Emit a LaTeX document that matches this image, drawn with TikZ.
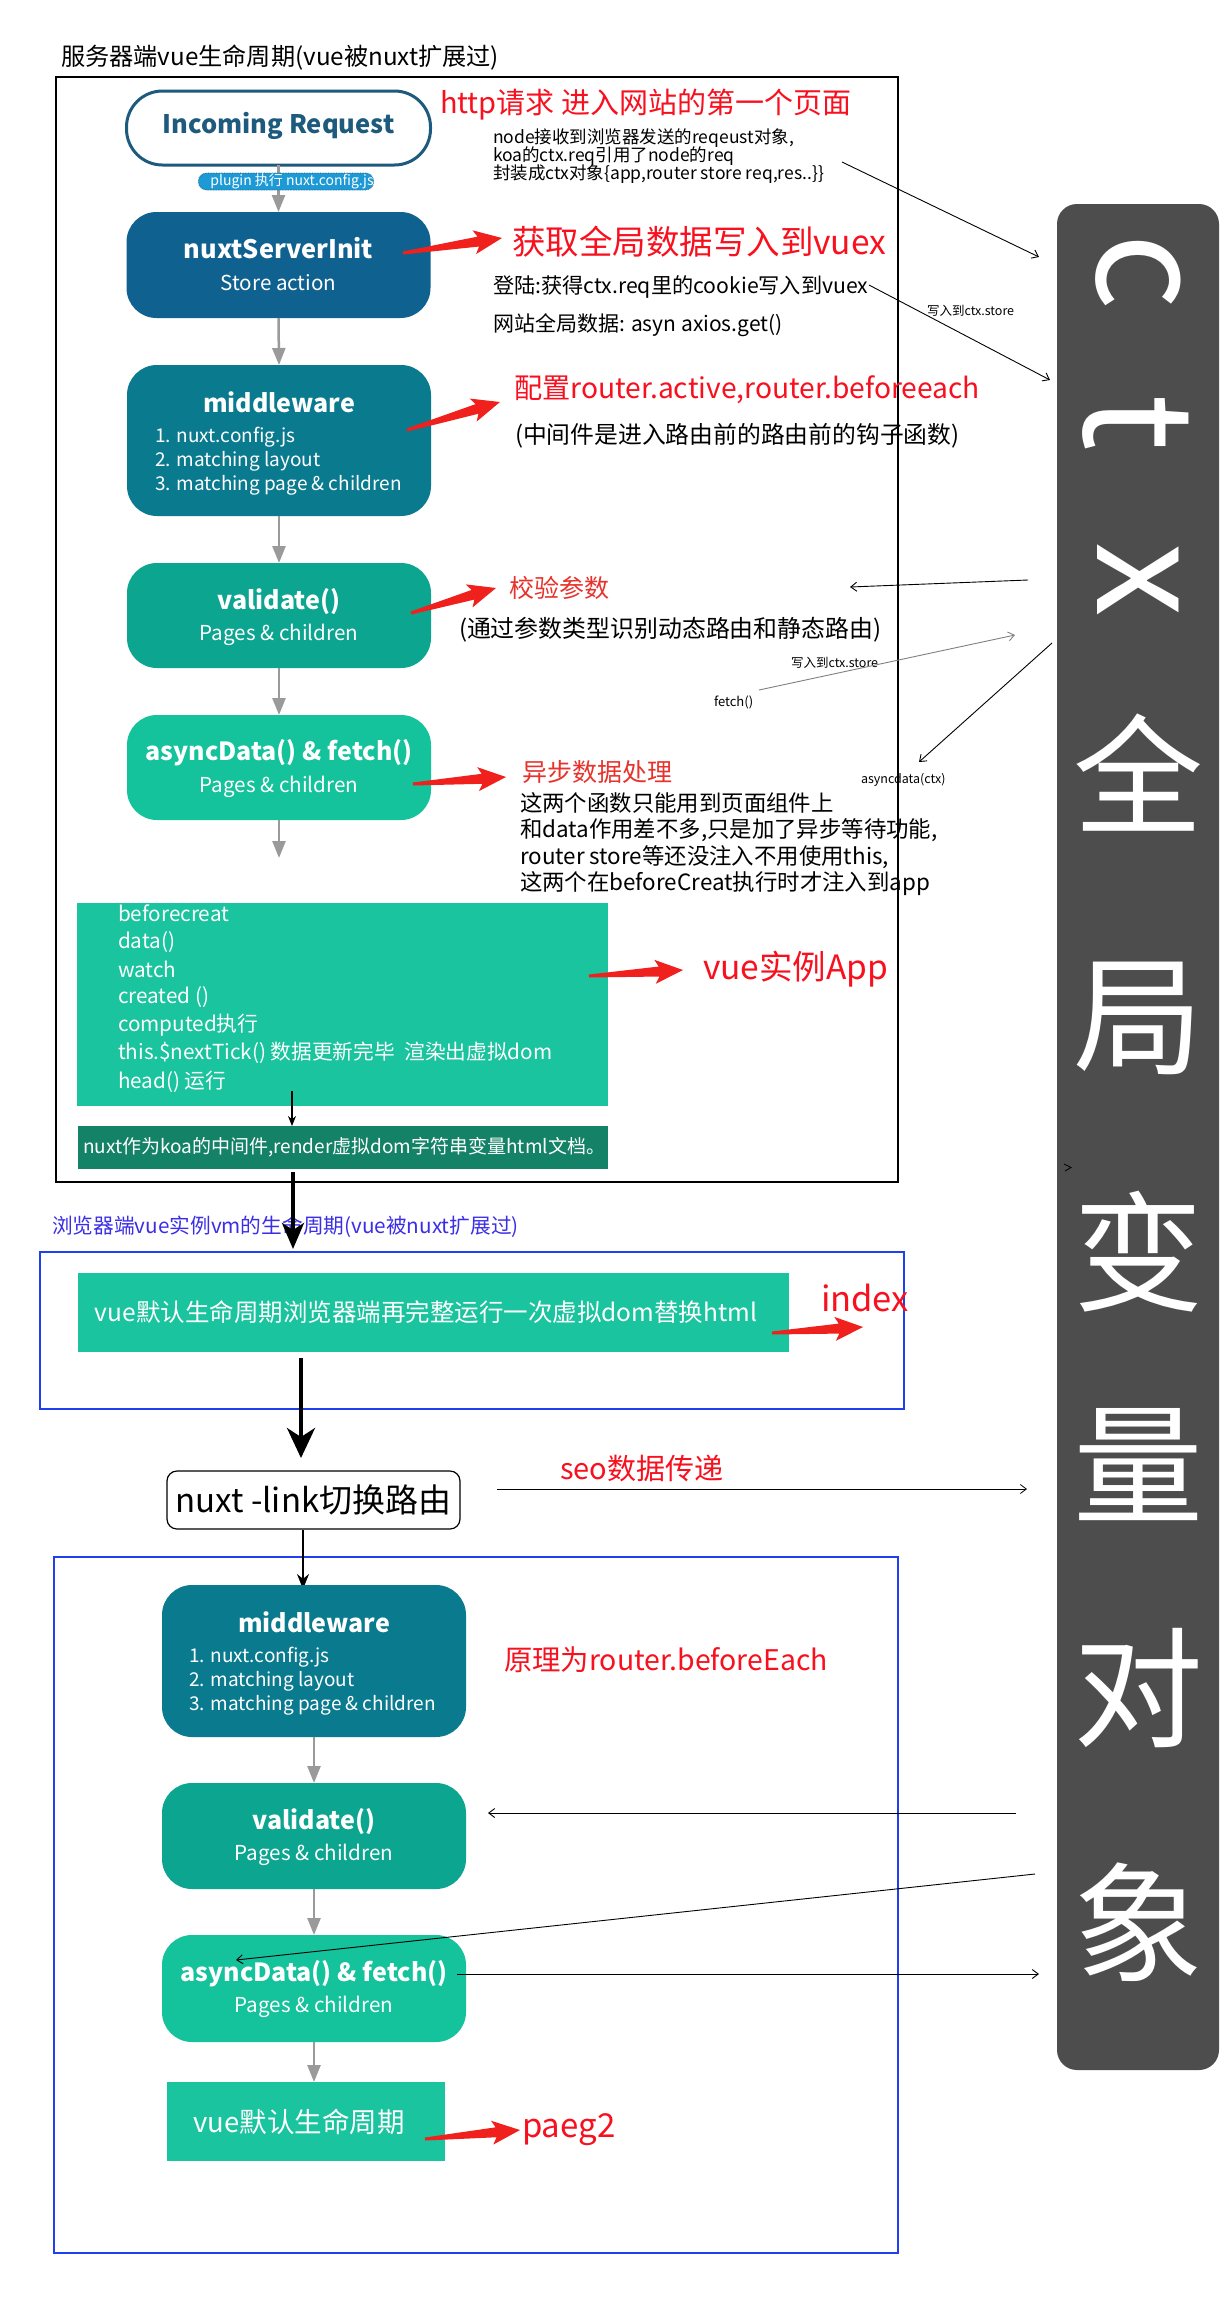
\documentclass[tikz,border=0pt]{standalone}
\usepackage{fontspec}
\setmainfont{Noto Sans CJK SC}
\usetikzlibrary{arrows.meta,calc}
\newcommand\fsz[1]{\fontsize{#1}{#1}\selectfont}
\definecolor{cInc}{HTML}{1E5A7D}
\definecolor{cPlug}{HTML}{1D9AD6}
\definecolor{cNSI}{HTML}{0F6190}
\definecolor{cMW}{HTML}{0A7A8E}
\definecolor{cVal}{HTML}{0BA590}
\definecolor{cAsy}{HTML}{14C29C}
\definecolor{cVue}{HTML}{19C49E}
\definecolor{cDark}{HTML}{138267}
\definecolor{cGrayArr}{HTML}{9A9A9A}
\definecolor{cRed}{HTML}{F8101E}
\definecolor{cRedB}{HTML}{E8322C}
\definecolor{cBlueT}{HTML}{3C2EE6}
\definecolor{cBlueL}{HTML}{2040F0}
\definecolor{cCtx}{HTML}{4D4D4D}
\definecolor{cArrRed}{HTML}{F0201C}
\newcommand\redarr[2]{%
  \fill[cArrRed] let \p1=(#1), \p2=(#2), \n1={atan2(\y2-\y1,\x2-\x1)} in
   ($(\p1)+(\n1+90:1.5pt)$) -- ($(\p2)+(\n1+180:24pt)+(\n1+90:5pt)$) --
   ($(\p2)+(\n1+180:28pt)+(\n1+90:12pt)$) -- (\p2) --
   ($(\p2)+(\n1+180:28pt)+(\n1-90:12pt)$) -- ($(\p2)+(\n1+180:24pt)+(\n1-90:5pt)$) --
   ($(\p1)+(\n1-90:1.5pt)$) -- cycle;}
\tikzset{
  flowbox/.style={rounded corners=30pt, minimum width=304pt, inner sep=0pt},
  boxttl/.style={text=white, font=\bfseries\fsz{25}},
  boxsub/.style={text=white, font=\fsz{20.6}},
  boxitm/.style={text=white, font=\fsz{19}, anchor=west},
  grayarr/.style={draw=cGrayArr, line width=2.5pt, -{Triangle[length=17pt,width=13pt]}},
  thinarr/.style={draw=black, line width=0.9pt, -{Straight Barb[length=6pt,width=9pt]}},
  rlabel/.style={text=cRed, anchor=west},
  blabel/.style={text=black, anchor=west},
  ctxL/.style={text=white, font=\fsz{150}},
  ctxH/.style={text=white, font=\fsz{130}},
  vueline/.style={text=white, font=\fsz{20.7}, anchor=west},
}
\begin{document}
\begin{tikzpicture}[x=1pt,y=-1pt, every node/.append style={inner sep=0pt, outer sep=0pt}]
\fill[white] (0,0) rectangle (1227,2297);
\useasboundingbox (0,0) rectangle (1227,2297);

% ---------- title and outer frame
\node[blabel, font=\fsz{24.2}] (title) at (61,58) {服务器端vue生命周期(vue被nuxt扩展过)};
\draw[line width=1.5pt] (56,77) rectangle (898,1182);

% ---------- ctx box
\node[fill=cCtx, rounded corners=20pt, minimum width=162pt, minimum height=1866pt] (ctx) at (1138,1137) {};
\node[ctxL, rotate=-90] (cC) at (1138,272) {c};
\node[ctxL, rotate=-90] (cT) at (1136,423) {t};
\node[ctxL, rotate=-90] (cX) at (1138,580) {x};
\node[ctxH] (h1) at (1138,773) {全};
\node[ctxH] (h2) at (1138,1018) {局};
\node[ctxH] (h3) at (1138,1252) {变};
\node[ctxH] (h4) at (1138,1465) {量};
\node[ctxH] (h5) at (1138,1688) {对};
\node[ctxH] (h6) at (1138,1922) {象};
\draw[line width=0.8pt] (1064,1164) -- (1071,1167.5) -- (1065,1171);

% ---------- server-side flow
\node[flowbox, draw=cInc, line width=3pt, fill=white, minimum height=74pt, rounded corners=36pt] (inc) at (278.5,128) {};
\node[font=\bfseries\fsz{25.5}, text=cInc] (incT) at (278.5,126) {Incoming Request};

\node[flowbox, fill=cNSI, minimum height=106pt] (nsi) at (278.5,265) {};
\node[boxttl, font=\bfseries\fsz{25.4}] (nsiT) at (278.5,248) {nuxtServerInit};
\node[boxsub] (nsiS) at (278.5,283) {Store action};

\node[flowbox, fill=cMW, minimum height=151pt] (mw) at (279,440.5) {};
\node[boxttl] (mwT) at (279,402) {middleware};
\node[boxitm] (mw1) at (155,437) {1. nuxt.config.js};
\node[boxitm] (mw2) at (155,461) {2. matching layout};
\node[boxitm] (mw3) at (155,485) {3. matching page \& children};

\node[flowbox, fill=cVal, minimum height=105pt] (val) at (279,615.5) {};
\node[boxttl] (valT) at (279,602) {validate()};
\node[boxsub] (valS) at (279,635) {Pages \& children};

\node[flowbox, fill=cAsy, minimum height=105pt] (asy) at (279,767.5) {};
\node[boxttl] (asyT) at (279,753) {asyncData() \& fetch()};
\node[boxsub] (asyS) at (279,787) {Pages \& children};

\draw[grayarr] (inc.south) -- (nsi.north);
\node[draw=cInc, densely dotted, line width=0.6pt, fill=cPlug, rounded corners=8pt,
      minimum width=175pt, minimum height=17pt, text=white, font=\fsz{14}] (plug) at (286,181.5)
      {\hspace*{12pt}plugin 执行 nuxt.config.js};
\draw[grayarr] (nsi.south) -- (mw.north);
\draw[grayarr] (mw.south) -- (val.north);
\draw[grayarr] (val.south) -- (asy.north);
\coordinate (asyEnd) at (279,858);
\draw[grayarr] (asy.south) -- (asyEnd);

% ---------- annotations (top)
\node[rlabel, font=\fsz{29}] (l1) at (440,105) {http请求 进入网站的第一个页面};
\node[blabel, font=\fsz{17.5}] (n1) at (493,138) {node接收到浏览器发送的reqeust对象,};
\node[blabel, font=\fsz{17.5}] (n2) at (493,156) {koa的ctx.req引用了node的req};
\node[blabel, font=\fsz{17.5}] (n3) at (493,174) {封装成ctx对象\{app,router store req,res..\}\}};
\node[rlabel, font=\fsz{33.5}] (l2) at (512,242) {获取全局数据写入到vuex};
\node[blabel, font=\fsz{21.2}] (n4) at (493,287) {登陆:获得ctx.req里的cookie写入到vuex};
\node[blabel, font=\fsz{21}] (n5) at (493,325) {网站全局数据: asyn axios.get()};
\node[rlabel, font=\fsz{28.2}] (l3) at (514,390) {配置router.active,router.beforeeach};
\node[blabel, font=\fsz{23.8}] (n6) at (515,436) {(中间件是进入路由前的路由前的钩子函数)};
\node[rlabel, text=cRedB, font=\fsz{25}] (l4) at (509,588) {校验参数};
\node[blabel, font=\fsz{23.9}] (n7) at (459,630) {(通过参数类型识别动态路由和静态路由)};
\node[rlabel, text=cRedB, font=\fsz{25}] (l5) at (522,772) {异步数据处理};
\node[blabel, font=\fsz{22.4}] (n8) at (520,803) {这两个函数只能用到页面组件上};
\node[blabel, font=\fsz{22.4}] (n9) at (520,830) {和data作用差不多,只是加了异步等待功能,};
\node[blabel, font=\fsz{22.4}] (n10) at (520,857) {router store等还没注入不用使用this,};
\node[blabel, font=\fsz{22.4}] (n11) at (520,884) {这两个在beforeCreat执行时才注入到app};

\node[blabel, font=\fsz{12.5}] (w1) at (927,311) {写入到ctx.store};
\node[blabel, font=\fsz{12.5}] (w2) at (791,663) {写入到ctx.store};
\node[blabel, font=\fsz{13}] (w3) at (714,702) {fetch()};
\node[blabel, font=\fsz{12.5}] (w4) at (861,780) {asyncdata(ctx)};

% thin arrows (top right)
\coordinate (a1s) at (842,162); \coordinate (a1e) at (1039,257);
\coordinate (a2s) at (869,285); \coordinate (a2e) at (1050,380);
\coordinate (a3s) at (1028,580); \coordinate (a3e) at (850,587);
\coordinate (a4s) at (759,690); \coordinate (a4e) at (1015,635);
\coordinate (a5s) at (1052,643); \coordinate (a5e) at (919,762);
\draw[thinarr] (a1s) -- (a1e);
\draw[thinarr] (a2s) -- (a2e);
\draw[thinarr] (a3s) -- (a3e);
\draw[thinarr, draw=gray] (a4s) -- (a4e);
\draw[thinarr] (a5s) -- (a5e);

% red arrows (top)
\coordinate (ra1s) at (403,253); \coordinate (ra1e) at (502,238);
\coordinate (ra2s) at (407,430); \coordinate (ra2e) at (500,402);
\coordinate (ra3s) at (411,613); \coordinate (ra3e) at (496,588);
\coordinate (ra4s) at (413,784); \coordinate (ra4e) at (506,777);
\redarr{ra1s}{ra1e}
\redarr{ra2s}{ra2e}
\redarr{ra3s}{ra3e}
\redarr{ra4s}{ra4e}

% ---------- vue instance box
\node[fill=cVue, minimum width=531pt, minimum height=203pt] (vue) at (342.5,1004.5) {};
\node[vueline] (v1) at (118,913) {beforecreat};
\node[vueline] (v2) at (118,942) {data()};
\node[vueline] (v3) at (118,969) {watch};
\node[vueline] (v4) at (118,997) {created ()};
\node[vueline] (v5) at (118,1025) {computed执行};
\node[vueline] (v6) at (118,1053) {this.\$nextTick() 数据更新完毕\ \ 渲染出虚拟dom};
\node[vueline] (v7) at (118,1082) {head() 运行};
\node[fill=cDark, minimum width=530pt, minimum height=43pt] (dark) at (343,1147.5) {};
\node[anchor=west, text=white, font=\fsz{19}] (darkT) at (83,1147) {nuxt作为koa的中间件,render虚拟dom字符串变量html文档。};
\coordinate (vIn) at (292,1091);
\draw[line width=1.3pt, -{Stealth[length=10pt,width=8pt]}] (vIn) -- (dark.north -| vIn);
\coordinate (ra5s) at (589,976); \coordinate (ra5e) at (683,970);
\redarr{ra5s}{ra5e}
\node[rlabel, font=\fsz{33.5}] (l6) at (703,969) {vue实例App};

% ---------- browser side
\node[anchor=west, text=cBlueT, font=\fsz{20.7}] (bt) at (52,1227) {浏览器端vue实例vm的生命周期(vue被nuxt扩展过)};
\coordinate (thA) at (293,1172); \coordinate (thB) at (293,1249);
\draw[line width=4pt, -{Stealth[length=26pt,width=22pt,inset=7pt]}] (thA) -- (thB);
\draw[cBlueL, line width=1.3pt] (40,1252) rectangle (904,1409);
\node[fill=cVue, minimum width=711pt, minimum height=79pt] (vueB) at (433.5,1312.5) {};
\node[text=white, font=\fsz{24.5}] (vueBT) at (426,1312) {vue默认生命周期浏览器端再完整运行一次虚拟dom替换html};
\coordinate (ra6s) at (772,1333); \coordinate (ra6e) at (863,1327);
\redarr{ra6s}{ra6e}
\node[rlabel, font=\fsz{34.5}] (l7) at (821,1298) {index};
\coordinate (thC) at (301,1358); \coordinate (thD) at (301,1458);
\draw[line width=4pt, -{Stealth[length=30pt,width=28pt,inset=9pt]}] (thC) -- (thD);

\node[draw, line width=1.2pt, rounded corners=10pt, minimum width=293pt, minimum height=58pt, font=\fsz{33}] (link) at (313.5,1500) {nuxt -link切换路由};
\node[rlabel, font=\fsz{29}] (seo) at (560,1468) {seo数据传递};
\coordinate (seoS) at (497,1489); \coordinate (seoE) at (1027,1489);
\draw[thinarr, line width=0.8pt] (seoS) -- (seoE);

% ---------- lower flow
\draw[cBlueL, line width=1.3pt] (54,1557) rectangle (898,2253);
\coordinate (lkA) at (303,1530); \coordinate (lkB) at (303,1589);
\draw[line width=1.8pt, -{Stealth[length=15pt,width=12pt]}] (lkA) -- (lkB);

\node[flowbox, fill=cMW, minimum height=152pt] (mwB) at (314,1661) {};
\node[boxttl] (mwBT) at (314,1622) {middleware};
\node[boxitm] (mwB1) at (189,1657) {1. nuxt.config.js};
\node[boxitm] (mwB2) at (189,1681) {2. matching layout};
\node[boxitm] (mwB3) at (189,1705) {3. matching page \& children};
\node[rlabel, font=\fsz{28.4}] (l8) at (504,1660) {原理为router.beforeEach};

\node[flowbox, fill=cVal, minimum height=106pt] (valB) at (314,1836) {};
\node[boxttl] (valBT) at (314,1822) {validate()};
\node[boxsub] (valBS) at (314,1855) {Pages \& children};

\node[flowbox, fill=cAsy, minimum height=107pt] (asyB) at (314,1988.5) {};
\node[boxttl] (asyBT) at (314,1974) {asyncData() \& fetch()};
\node[boxsub] (asyBS) at (314,2007) {Pages \& children};

\node[fill=cVue, minimum width=278pt, minimum height=79pt] (vueC) at (306,2121.5) {};
\node[text=white, font=\fsz{27.5}] (vueCT) at (299,2122) {vue默认生命周期};

\draw[grayarr] (mwB.south) -- (valB.north);
\draw[grayarr] (valB.south) -- (asyB.north);
\draw[grayarr] (asyB.south) -- (asyB.south |- vueC.north);

\coordinate (ra7s) at (425,2139); \coordinate (ra7e) at (520,2130);
\redarr{ra7s}{ra7e}
\node[rlabel, font=\fsz{33}] (l9) at (522,2130) {paeg2};

\coordinate (a7s) at (1016,1813); \coordinate (a7e) at (488,1813);
\coordinate (a8s) at (1035,1874); \coordinate (a8e) at (236,1960);
\coordinate (a9s) at (457,1974); \coordinate (a9e) at (1039,1974);
\draw[thinarr] (a7s) -- (a7e);
\draw[thinarr] (a8s) -- (a8e);
\draw[thinarr] (a9s) -- (a9e);
\end{tikzpicture}
\end{document}
